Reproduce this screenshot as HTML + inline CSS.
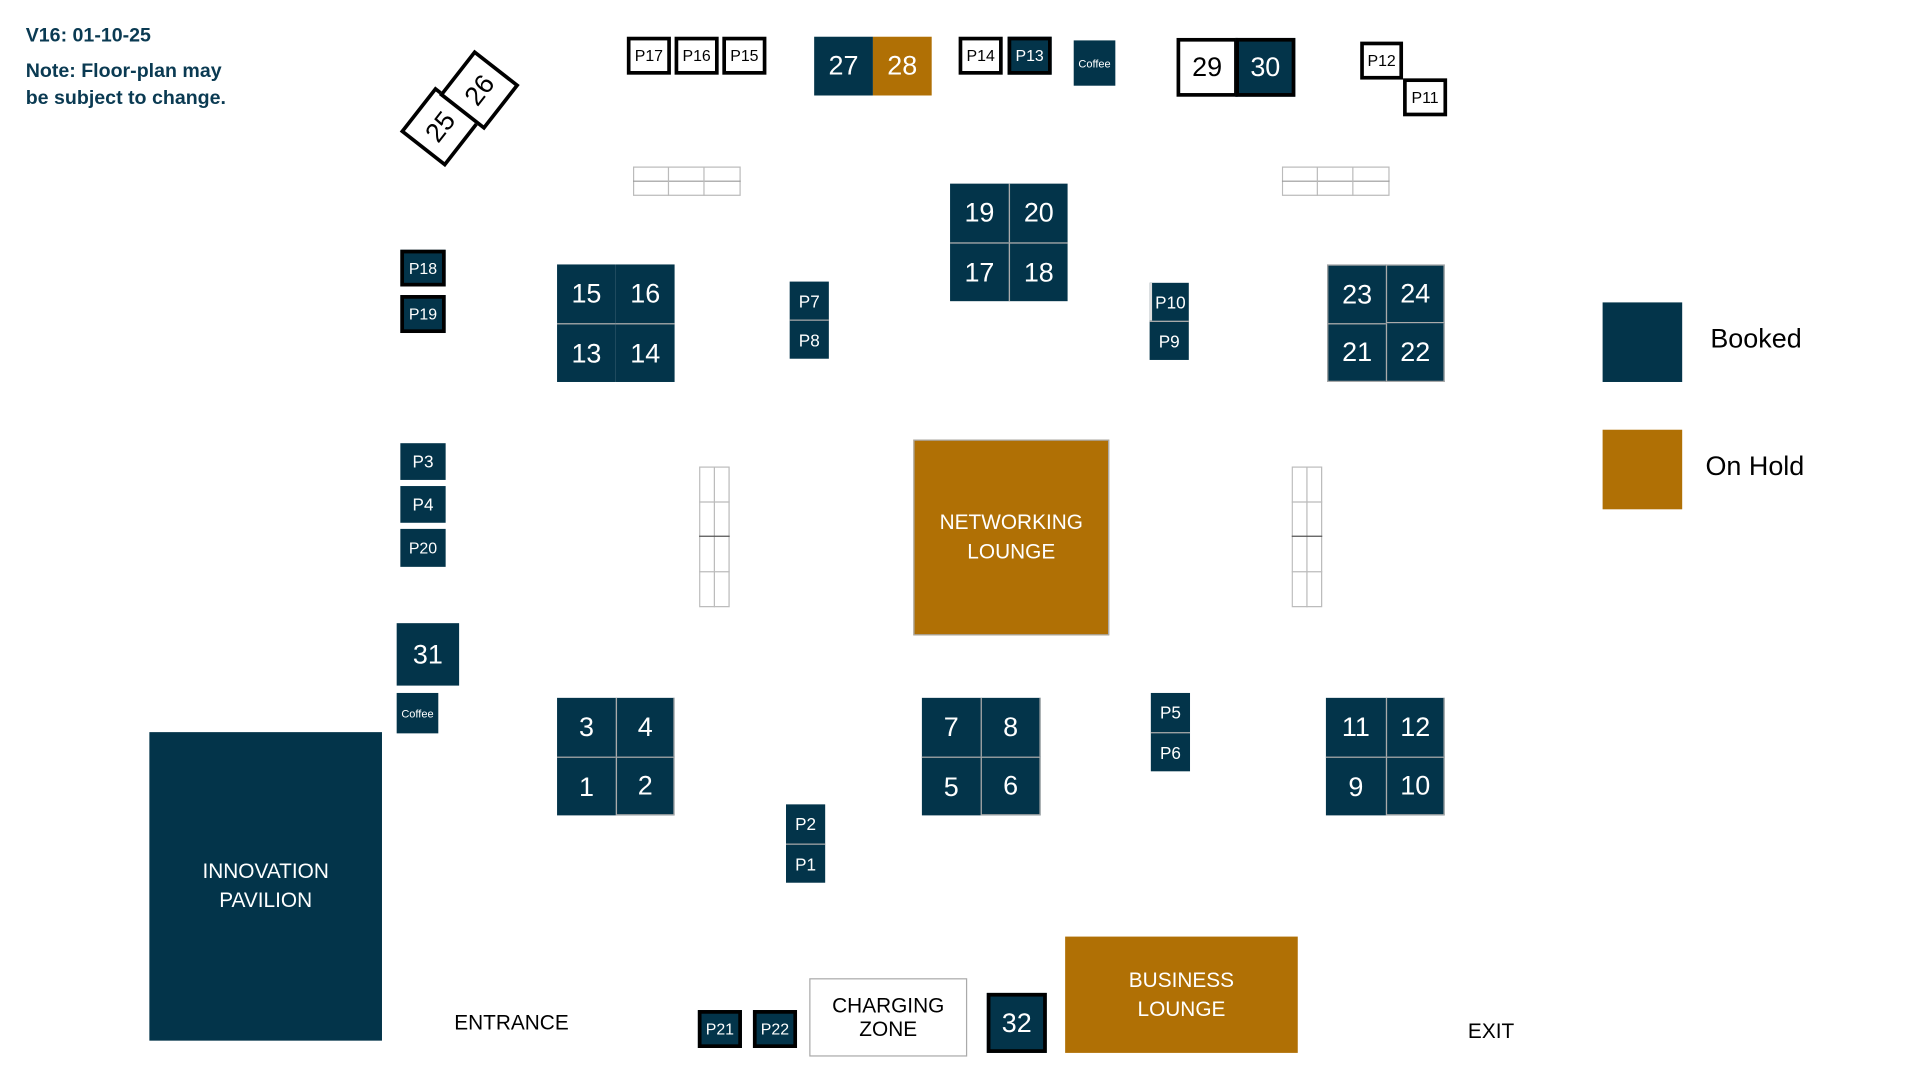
<!DOCTYPE html>
<html><head><meta charset="utf-8"><style>
html,body{margin:0;padding:0;background:#fff;width:1920px;height:1080px;overflow:hidden}
#s{position:absolute;left:0;top:0;width:1570px;height:882px;transform:scale(1.2243);transform-origin:0 0;font-family:"Liberation Sans",sans-serif}
.b{position:absolute;box-sizing:border-box;display:flex;align-items:center;justify-content:center;text-align:center}
.d{background:#03344a;color:#fff}
.o{background:#b07005;color:#fff}
.w{background:#fff;color:#000;border:3px solid #000}
.k{border:3px solid #000}
.g{border:1px solid #aaa}
.p{font-size:14px}
.n{font-size:22px}
.t{position:absolute;white-space:nowrap}
</style></head><body><div id="s">
<div class="t" style="left:21px;top:21px;font-size:16px;font-weight:bold;color:#0a3a52">V16: 01-10-25</div>
<div class="t" style="left:21px;top:48px;font-size:16px;font-weight:bold;color:#0a3a52;line-height:22px">Note: Floor-plan may<br>be subject to change.</div>

<div class="b w n" style="left:336px;top:80px;width:47px;height:47px;transform:rotate(-52deg)"><span>25</span></div>
<div class="b w n" style="left:368px;top:50px;width:47px;height:47px;transform:rotate(-52deg)"><span>26</span></div>

<div class="b w" style="left:512px;top:30px;width:36px;height:31px;font-size:13px">P17</div>
<div class="b w" style="left:551px;top:30px;width:36px;height:31px;font-size:13px">P16</div>
<div class="b w" style="left:590px;top:30px;width:36px;height:31px;font-size:13px">P15</div>
<div class="b d n" style="left:665px;top:30px;width:48px;height:48px">27</div>
<div class="b o n" style="left:713px;top:30px;width:48px;height:48px">28</div>
<div class="b w" style="left:783px;top:30px;width:36px;height:31px;font-size:13px">P14</div>
<div class="b d k" style="left:823px;top:30px;width:36px;height:31px;font-size:13px">P13</div>
<div class="b d" style="left:877px;top:33px;width:34px;height:37px;font-size:9px">Coffee</div>
<div class="b w n" style="left:961px;top:31px;width:50px;height:48px">29</div>
<div class="b d k n" style="left:1009px;top:31px;width:49px;height:48px">30</div>
<div class="b w" style="left:1111px;top:34px;width:35px;height:31px;font-size:13px">P12</div>
<div class="b w" style="left:1146px;top:64px;width:36px;height:31px;font-size:13px">P11</div>

<svg class="t" style="left:517px;top:136px" width="90" height="26"><g stroke="#bbb" fill="none"><rect x="0.5" y="0.5" width="87" height="23"/><line x1="0" y1="12" x2="88" y2="12" stroke="#999"/><line x1="29" y1="0" x2="29" y2="24"/><line x1="58" y1="0" x2="58" y2="24"/></g></svg>
<svg class="t" style="left:1047px;top:136px" width="90" height="26"><g stroke="#bbb" fill="none"><rect x="0.5" y="0.5" width="87" height="23"/><line x1="0" y1="12" x2="88" y2="12" stroke="#999"/><line x1="29" y1="0" x2="29" y2="24"/><line x1="58" y1="0" x2="58" y2="24"/></g></svg>
<svg class="t" style="left:571px;top:381px" width="28" height="118"><g stroke="#bbb" fill="none"><rect x="0.5" y="0.5" width="24" height="114"/><line x1="12.5" y1="0" x2="12.5" y2="115"/><line x1="0" y1="29" x2="25" y2="29"/><line x1="0" y1="57" x2="25" y2="57" stroke="#555"/><line x1="0" y1="86" x2="25" y2="86"/></g></svg>
<svg class="t" style="left:1055px;top:381px" width="28" height="118"><g stroke="#bbb" fill="none"><rect x="0.5" y="0.5" width="24" height="114"/><line x1="12.5" y1="0" x2="12.5" y2="115"/><line x1="0" y1="29" x2="25" y2="29"/><line x1="0" y1="57" x2="25" y2="57" stroke="#555"/><line x1="0" y1="86" x2="25" y2="86"/></g></svg>

<div class="b d n" style="left:776px;top:150px;width:48px;height:48px">19</div>
<div class="b d n" style="left:824px;top:150px;width:48px;height:48px;border-left:1px solid #aaa">20</div>
<div class="b d n" style="left:776px;top:198px;width:48px;height:48px;border-top:1px solid #aaa">17</div>
<div class="b d n" style="left:824px;top:198px;width:48px;height:48px;border-left:1px solid #aaa;border-top:1px solid #aaa">18</div>

<div class="b d k p" style="left:327px;top:204px;width:37px;height:30px;font-size:13px">P18</div>
<div class="b d k p" style="left:327px;top:241px;width:37px;height:31px;font-size:13px">P19</div>

<div class="b d n" style="left:455px;top:216px;width:48px;height:48px">15</div>
<div class="b d n" style="left:503px;top:216px;width:48px;height:48px">16</div>
<div class="b d n" style="left:455px;top:264px;width:48px;height:48px;border-top:1px solid #aaa">13</div>
<div class="b d n" style="left:503px;top:264px;width:48px;height:48px;border-top:1px solid #aaa">14</div>

<div class="b d p" style="left:645px;top:230px;width:32px;height:31px">P7</div>
<div class="b d p" style="left:645px;top:261px;width:32px;height:32px;border-top:1px solid #aaa">P8</div>
<div class="b d p" style="left:939px;top:231px;width:32px;height:31px;border-left:2px solid #ddd">P10</div>
<div class="b d p" style="left:939px;top:262px;width:32px;height:32px;border-top:1px solid #aaa">P9</div>

<div class="b d n" style="left:1084px;top:216px;width:48px;height:48px;border:1px solid #aaa;border-width:1px 0 0 1px">23</div>
<div class="b d n" style="left:1132px;top:216px;width:48px;height:48px;border:1px solid #aaa">24</div>
<div class="b d n" style="left:1084px;top:264px;width:48px;height:48px;border:1px solid #aaa;border-width:1px 0 1px 1px">21</div>
<div class="b d n" style="left:1132px;top:264px;width:48px;height:48px;border:1px solid #aaa;border-top:0">22</div>

<div class="b d" style="left:1309px;top:247px;width:65px;height:65px"></div>
<div class="t" style="left:1397px;top:264px;font-size:22px">Booked</div>
<div class="b o" style="left:1309px;top:351px;width:65px;height:65px"></div>
<div class="t" style="left:1393px;top:368px;font-size:22px">On Hold</div>

<div class="b d p" style="left:327px;top:362px;width:37px;height:30px">P3</div>
<div class="b d p" style="left:327px;top:397px;width:37px;height:30px">P4</div>
<div class="b d p" style="left:327px;top:432px;width:37px;height:31px;font-size:13px">P20</div>

<div class="b o g" style="left:746px;top:359px;width:160px;height:160px;font-size:17px;line-height:24px">NETWORKING<br>LOUNGE</div>

<div class="b d n" style="left:324px;top:509px;width:51px;height:51px">31</div>
<div class="b d" style="left:324px;top:566px;width:34px;height:33px;font-size:9px">Coffee</div>
<div class="b d" style="left:122px;top:598px;width:190px;height:252px;font-size:17px;line-height:24px">INNOVATION<br>PAVILION</div>

<div class="b d n" style="left:455px;top:570px;width:48px;height:48px">3</div>
<div class="b d n" style="left:503px;top:570px;width:48px;height:48px;border:1px solid #aaa;border-width:0 1px 0 1px">4</div>
<div class="b d n" style="left:455px;top:618px;width:48px;height:48px;border-top:1px solid #aaa">1</div>
<div class="b d n" style="left:503px;top:618px;width:48px;height:48px;border:1px solid #aaa">2</div>

<div class="b d n" style="left:753px;top:570px;width:48px;height:48px">7</div>
<div class="b d n" style="left:801px;top:570px;width:49px;height:48px;border:1px solid #aaa;border-width:0 1px 0 1px">8</div>
<div class="b d n" style="left:753px;top:618px;width:48px;height:48px;border-top:1px solid #aaa">5</div>
<div class="b d n" style="left:801px;top:618px;width:49px;height:48px;border:1px solid #aaa">6</div>

<div class="b d p" style="left:940px;top:566px;width:32px;height:32px">P5</div>
<div class="b d p" style="left:940px;top:598px;width:32px;height:32px;border-top:1px solid #aaa">P6</div>

<div class="b d n" style="left:1083px;top:570px;width:49px;height:48px">11</div>
<div class="b d n" style="left:1132px;top:570px;width:48px;height:48px;border:1px solid #aaa;border-width:0 1px 0 1px">12</div>
<div class="b d n" style="left:1083px;top:618px;width:49px;height:48px;border-top:1px solid #aaa">9</div>
<div class="b d n" style="left:1132px;top:618px;width:48px;height:48px;border:1px solid #aaa">10</div>

<div class="b d p" style="left:642px;top:657px;width:32px;height:32px">P2</div>
<div class="b d p" style="left:642px;top:689px;width:32px;height:32px;border-top:1px solid #aaa">P1</div>

<div class="t" style="left:371px;top:826px;font-size:17px">ENTRANCE</div>
<div class="b d k" style="left:570px;top:825px;width:36px;height:31px;font-size:13px">P21</div>
<div class="b d k" style="left:615px;top:825px;width:36px;height:31px;font-size:13px">P22</div>
<div class="b g" style="left:661px;top:799px;width:129px;height:64px;font-size:17px;line-height:19px">CHARGING<br>ZONE</div>
<div class="b d k n" style="left:806px;top:811px;width:49px;height:49px">32</div>
<div class="b o" style="left:870px;top:765px;width:190px;height:95px;font-size:17px;line-height:24px">BUSINESS<br>LOUNGE</div>
<div class="t" style="left:1199px;top:833px;font-size:17px">EXIT</div>
</div></body></html>
